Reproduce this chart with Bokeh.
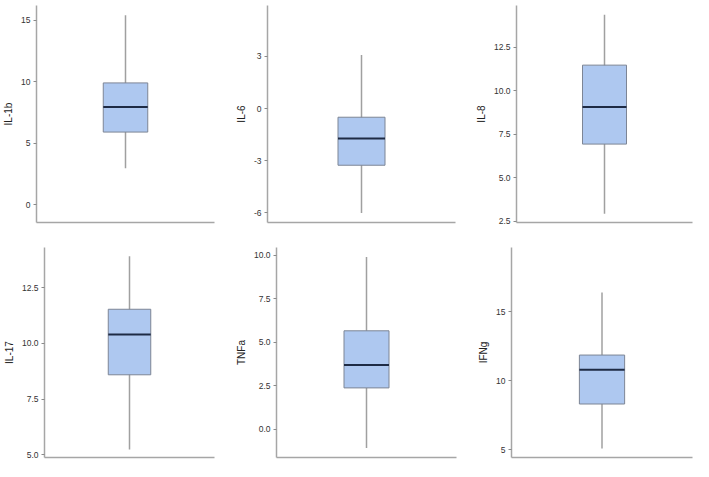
from bokeh.plotting import figure
from bokeh.layouts import column, row
from bokeh.models import Range1d, FixedTicker
from bokeh.embed import file_html
from bokeh.resources import INLINE

# ---- data ----
names = ["IL-1b", "IL-6", "IL-8", "IL-17", "TNFa", "IFNg"]
q1 = [5.9, -3.26, 6.93, 8.59, 2.37, 8.31]
median = [7.94, -1.72, 9.06, 10.4, 3.69, 10.79]
q3 = [9.9, -0.5, 11.47, 11.53, 5.66, 11.86]
whisker_low = [2.95, -6.0, 2.92, 5.24, -1.09, 5.08]
whisker_high = [15.4, 3.07, 14.37, 13.91, 9.91, 16.4]

y_low = [-1.46, -6.55, 2.42, 4.88, -1.64, 4.43]
y_high = [16.2, 5.92, 14.9, 14.3, 10.46, 19.66]

tick_values = [
    [0, 5, 10, 15],
    [-6, -3, 0, 3],
    [2.5, 5, 7.5, 10, 12.5],
    [5, 7.5, 10, 12.5],
    [0, 2.5, 5, 7.5, 10],
    [5, 10, 15],
]
tick_labels = [
    ["0", "5", "10", "15"],
    ["-6", "-3", "0", "3"],
    ["2.5", "5.0", "7.5", "10.0", "12.5"],
    ["5.0", "7.5", "10.0", "12.5"],
    ["0.0", "2.5", "5.0", "7.5", "10.0"],
    ["5", "10", "15"],
]

# ---- layout (figure sizes and borders) ----
fig_w = [232, 230, 231, 232, 230, 231]
fig_h = [226, 226, 226, 235, 235, 235]
border = [  # left, right, top, bottom
    (26, 18, 5, 4),
    (33, 7, 5, 4),
    (54, 1, 5, 4),
    (34, 18, 21, 4),
    (43, 6, 20, 4),
    (49, 1, 20, 4),
]

FONT = "Liberation Sans"
AXIS_COLOR = "#a6a6a6"
BOX_FILL = "#aec8f0"
BOX_LINE = "#7d8595"
MEDIAN = "#1e2b45"
WHISKER = "#a0a0a0"


def make(i):
    l, r, t, b = border[i]
    p = figure(width=fig_w[i], height=fig_h[i], output_backend="svg",
               toolbar_location=None, tools="",
               x_range=Range1d(0, 2), y_range=Range1d(y_low[i], y_high[i]),
               min_border_left=l, min_border_right=r,
               min_border_top=t, min_border_bottom=b)
    p.outline_line_color = None
    p.grid.visible = False
    p.background_fill_color = "white"
    p.border_fill_color = "white"

    # x axis: line only
    xa = p.xaxis[0]
    xa.ticker = FixedTicker(ticks=[])
    xa.major_label_text_font_size = "0px"
    xa.major_tick_line_color = None
    xa.minor_tick_line_color = None
    xa.axis_line_color = AXIS_COLOR
    xa.axis_line_width = 1.5
    xa.major_label_standoff = 0

    ya = p.yaxis[0]
    ya.ticker = FixedTicker(ticks=tick_values[i])
    ya.major_label_overrides = {v: s for v, s in zip(tick_values[i], tick_labels[i])}
    ya.axis_line_color = AXIS_COLOR
    ya.axis_line_width = 1.5
    ya.major_tick_line_color = "#8a8a8a"
    ya.major_tick_out = 3
    ya.major_tick_in = 0
    ya.minor_tick_line_color = None
    ya.major_label_text_font = FONT
    ya.major_label_text_font_size = "8.5px"
    ya.major_label_text_color = "#333333"
    ya.major_label_standoff = 3
    ya.axis_label = names[i]
    ya.axis_label_text_font = FONT
    ya.axis_label_text_font_size = "10px"
    ya.axis_label_text_font_style = "normal"
    ya.axis_label_text_color = "#222222"
    ya.axis_label_standoff = 4

    # whisker
    p.segment(x0=[1], y0=[whisker_low[i]], x1=[1], y1=[whisker_high[i]],
              line_color=WHISKER, line_width=1.5)
    # box
    p.quad(left=[0.75], right=[1.25], bottom=[q1[i]], top=[q3[i]],
           fill_color=BOX_FILL, line_color=BOX_LINE, line_width=1)
    # median
    p.segment(x0=[0.75], y0=[median[i]], x1=[1.25], y1=[median[i]],
              line_color=MEDIAN, line_width=2)
    return p


plots = [make(i) for i in range(6)]
layout = column(row(*plots[:3]), row(*plots[3:]))

open("out.html", "w").write(file_html(layout, INLINE))
